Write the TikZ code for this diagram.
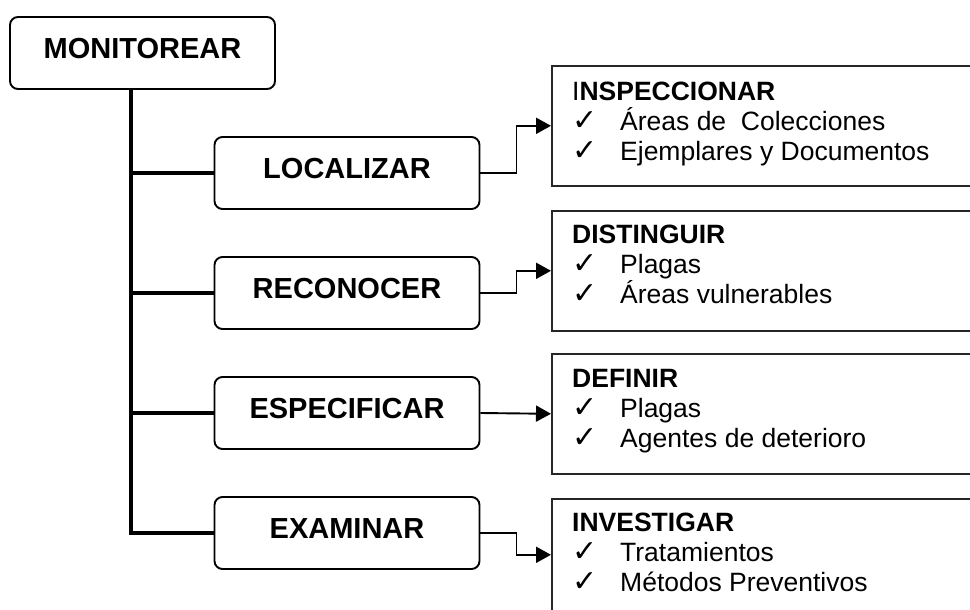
\documentclass[tikz,border=0pt]{standalone}
\usepackage{fontspec}
\setmainfont{Liberation Sans}
\newfontfamily\checkfont{DejaVu Sans}
\usetikzlibrary{arrows.meta}
\newcommand{\chk}{\makebox[48pt][l]{\raisebox{0pt}[0pt][0pt]{\checkfont\fontsize{30}{30}\selectfont ✓}}}
\begin{document}
\begin{tikzpicture}[x=1pt,y=1pt,yscale=-1,
    verbbox/.style={draw,line width=1.9pt,rounded corners=8pt,minimum width=265pt,minimum height=72pt,inner sep=0pt,text height=21pt,text depth=10pt,font=\fontsize{29}{29}\selectfont\bfseries},
    listbox/.style={draw=black!85,line width=1.6pt,minimum width=440pt,minimum height=120pt,inner sep=0pt,anchor=north west},
    listtext/.style={anchor=north west,inner sep=0pt,align=left,font=\fontsize{26.5}{30}\selectfont},
    trunk/.style={line width=4.5pt},
    link/.style={line width=1.9pt,-{Triangle[length=15pt,width=16pt]}}]
        \useasboundingbox (0,0) rectangle (970,610);
        \clip (0,0) rectangle (970,610);
        \node[verbbox] (monitorear) at (142.5,53) {MONITOREAR};
        \node[verbbox] (localizar) at (347,173) {LOCALIZAR};
        \node[verbbox] (reconocer) at (347,293) {RECONOCER};
        \node[verbbox] (especificar) at (347,413) {ESPECIFICAR};
        \node[verbbox] (examinar) at (347,533) {EXAMINAR};
        \node[listbox] (inspeccionar) at (551,65) {};
        \node[listbox] (distinguir) at (551,210) {};
        \node[listbox] (definir) at (551,353) {};
        \node[listbox,minimum height=112pt] (investigar) at (551,498) {};
        \node[listtext] (txtinspeccionar) at (572,82) {I\textbf{NSPECCIONAR}\\\chk Áreas de\ \ Colecciones\\\chk Ejemplares y Documentos};
        \node[listtext] (txtdistinguir) at (572,225) {\textbf{DISTINGUIR}\\\chk Plagas\\\chk Áreas vulnerables};
        \node[listtext] (txtdefinir) at (572,369) {\textbf{DEFINIR}\\\chk Plagas\\\chk Agentes de deterioro};
        \node[listtext] (txtinvestigar) at (572,513) {\textbf{INVESTIGAR}\\\chk Tratamientos\\\chk Métodos Preventivos};
        \coordinate (tronco) at (131,533);
        \draw[trunk] (monitorear.south -| tronco) -- (tronco) -- (examinar.west);
        \foreach \n in {localizar,reconocer,especificar}
            \draw[trunk] (tronco |- \n.west) -- (\n.west);
        \draw[link] (localizar.east) -- ++(36,0) |- (inspeccionar.west);
        \draw[link] (reconocer.east) -- ++(36,0) |- (distinguir.west);
        \draw[link] (especificar.east) -- (definir.west);
        \draw[link] (examinar.east) -- ++(36,0) |- (investigar.west);
    \end{tikzpicture}
\end{document}
